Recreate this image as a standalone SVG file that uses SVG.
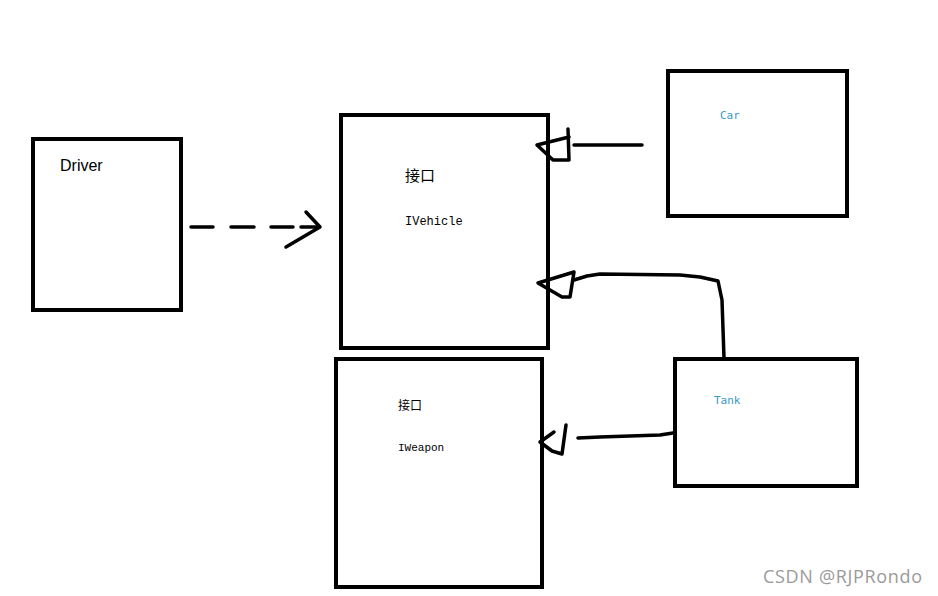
<svg xmlns="http://www.w3.org/2000/svg" width="938" height="596" viewBox="0 0 938 596">
<style>
.box{fill:#fff;stroke:#000;stroke-width:4}
.ln{fill:none;stroke:#000;stroke-width:3.5;stroke-linecap:round;stroke-linejoin:round}
.t{font-family:"Liberation Sans",Arial,sans-serif;fill:#000}
.m{font-family:"Liberation Mono","DejaVu Sans Mono",monospace;fill:#000}
.cj{font-family:"Liberation Sans","Noto Sans CJK SC",sans-serif;fill:#000}
.blue{font-family:"DejaVu Sans Mono","Liberation Mono",monospace;fill:#3a98c4;font-size:11px}
</style>
<rect width="938" height="596" fill="#fff"/>
<g id="driver"><rect class="box" x="33" y="139" width="148" height="171"/><text class="t" x="60" y="171" font-size="16">Driver</text></g>
<g id="ivehicle"><rect class="box" x="341" y="115" width="207" height="233"/><text class="cj" x="405" y="181" font-size="15">接口</text><text class="m" x="405" y="225" font-size="12">IVehicle</text></g>
<g id="iweapon"><rect class="box" x="336" y="359" width="206" height="228"/><text class="cj" x="398" y="410" font-size="12">接口</text><text class="m" x="398" y="451" font-size="11">IWeapon</text></g>
<g id="car"><rect class="box" x="668" y="71" width="179" height="145"/><text class="blue" x="720" y="119">Car</text></g>
<g id="tank"><rect class="box" x="675" y="359" width="182" height="127"/><text class="blue" x="714" y="404">Tank</text></g>
<g id="connectors">
<path class="ln" d="M191 227H213M231 227H254M271 227H293M301 227H318" stroke-width="4"/>
<path class="ln" d="M306 212L320 227L286 247" stroke-width="4"/>
<path class="ln" d="M574 145H642"/>
<path class="ln" d="M568 129L569 160L553 160L537 145L569 137"/>
<path class="ln" d="M574 280L587 276L600 274L680 275L700 277L718 281L722 300L724 358"/>
<path class="ln" d="M538 283L574 272L570 297L562 297Z"/>
<path class="ln" d="M578 438L600 437L660 435L673 433"/>
<path class="ln" d="M566 425L562 454L552 451L540 442L554 432"/>
</g>
<text x="763" y="583" font-family="'Open Sans','Liberation Sans',sans-serif" font-size="18" textLength="159" fill="#9a9a9a">CSDN @RJPRondo</text>
</svg>
